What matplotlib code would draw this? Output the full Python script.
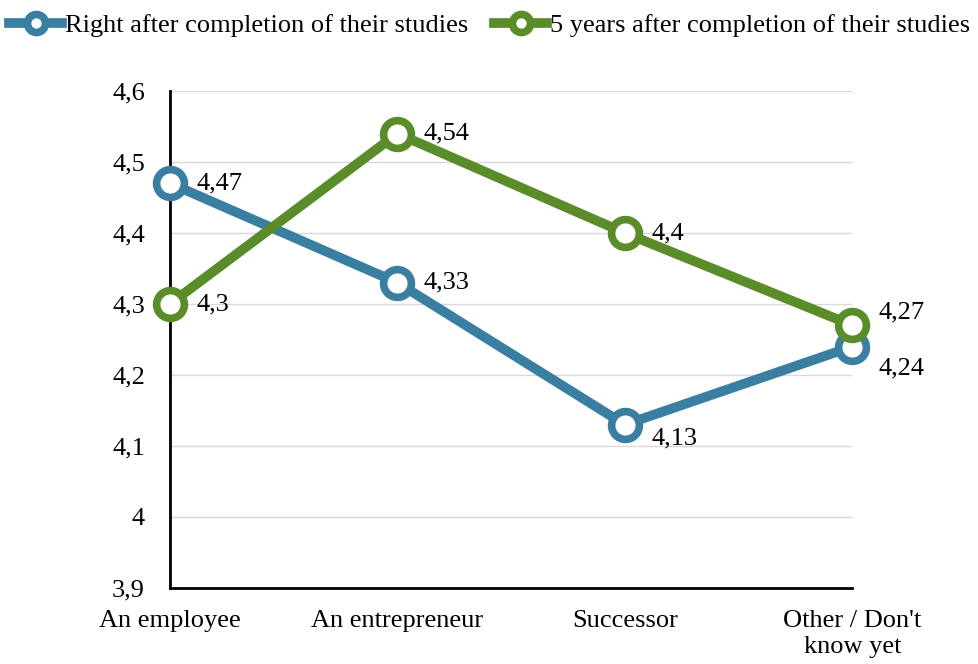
import matplotlib.pyplot as plt

categories = ["An employee", "An entrepreneur", "Successor", "Other / Don't\nknow yet"]
right_after = [4.47, 4.33, 4.13, 4.24]
five_years = [4.30, 4.54, 4.40, 4.27]
series_names = ["Right after completion of their studies", "5 years after completion of their studies"]
yticks = [3.9, 4.0, 4.1, 4.2, 4.3, 4.4, 4.5, 4.6]

plt.rcParams['font.family'] = ['Liberation Serif', 'DejaVu Serif']

blue = '#3A7EA1'
green = '#5B8C2A'
fs = 19

fig = plt.figure(figsize=(9.79, 6.64), dpi=100)
ax = fig.add_axes([0.1736, 0.1145, 0.697, 0.7485])

x = list(range(len(categories)))
l1, = ax.plot(x, right_after, color=blue, lw=7, marker='o', ms=20, mfc='white',
              mec=blue, mew=5.5, zorder=3, label=series_names[0], clip_on=False)
l2, = ax.plot(x, five_years, color=green, lw=7, marker='o', ms=20, mfc='white',
              mec=green, mew=5.5, zorder=4, label=series_names[1], clip_on=False)

def fmt(v):
    return f"{v:g}".replace('.', ',')

# data labels: (dx, dy) in points
off_blue = [(19, 0), (19, 0), (19, -10), (19, -16)]
off_green = [(19, 0), (19, 0), (19, 0), (19, 9)]
for xi, v, o in zip(x, right_after, off_blue):
    ax.annotate(fmt(v), (xi, v), xytext=o, textcoords='offset points',
                fontsize=fs, va='center', ha='left', zorder=5)
for xi, v, o in zip(x, five_years, off_green):
    ax.annotate(fmt(v), (xi, v), xytext=o, textcoords='offset points',
                fontsize=fs, va='center', ha='left', zorder=5)

ax.set_xlim(0, 3)
ax.set_ylim(3.9, 4.6)
ax.set_yticks(yticks)
ax.set_yticklabels([fmt(t) for t in yticks], fontsize=fs)
ax.set_xticks(x)
ax.set_xticklabels(categories, fontsize=fs, linespacing=1.2)
ax.tick_params(length=0)
ax.tick_params(axis='x', pad=16)
ax.tick_params(axis='y', pad=18)
ax.grid(axis='y', color='#d9d9d9', lw=1)
ax.set_axisbelow(True)
for s in ['top', 'right']:
    ax.spines[s].set_visible(False)
ax.spines['left'].set_linewidth(2)
ax.spines['bottom'].set_linewidth(2)

fig.legend(handles=[l1, l2], loc='upper center', bbox_to_anchor=(0.5, 1.015), ncol=2,
           frameon=False, fontsize=fs, handlelength=2.0, handletextpad=0.1,
           columnspacing=1.0, markerscale=0.65)

fig.savefig('out.png', dpi=100)
